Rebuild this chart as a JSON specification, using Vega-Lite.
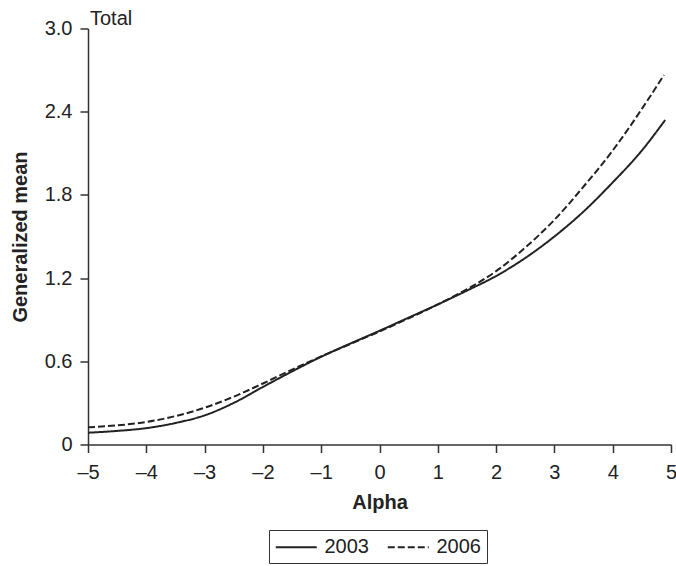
{
  "$schema": "https://vega.github.io/schema/vega-lite/v6.json",
  "width": 583,
  "height": 416,
  "autosize": {"type": "none"},
  "padding": {"left": 88, "top": 28.5, "right": 5, "bottom": 121.5},
  "background": "white",
  "config": {
    "view": {"stroke": null},
    "font": "Liberation Sans",
    "axis": {
      "domainColor": "#333",
      "domainWidth": 1.5,
      "tickColor": "#333",
      "tickWidth": 1.5,
      "tickSize": 8,
      "grid": false,
      "labelFont": "Liberation Sans",
      "labelFontSize": 20,
      "labelColor": "#222",
      "titleFont": "Liberation Sans",
      "titleFontSize": 20,
      "titleFontWeight": "bold",
      "titleColor": "#222"
    }
  },
  "title": {
    "text": "Total",
    "anchor": "start",
    "frame": "group",
    "fontSize": 20,
    "fontWeight": "normal",
    "font": "Liberation Sans",
    "color": "#222",
    "baseline": "alphabetic",
    "offset": 0,
    "dy": 26,
    "dx": 2
  },
  "data": {
    "values": [
      {"alpha": -5, "value": 0.085, "year": "2003"},
      {"alpha": -4.5, "value": 0.098, "year": "2003"},
      {"alpha": -4, "value": 0.118, "year": "2003"},
      {"alpha": -3.5, "value": 0.155, "year": "2003"},
      {"alpha": -3, "value": 0.21, "year": "2003"},
      {"alpha": -2.5, "value": 0.3, "year": "2003"},
      {"alpha": -2, "value": 0.415, "year": "2003"},
      {"alpha": -1.5, "value": 0.527, "year": "2003"},
      {"alpha": -1, "value": 0.633, "year": "2003"},
      {"alpha": -0.5, "value": 0.728, "year": "2003"},
      {"alpha": 0, "value": 0.82, "year": "2003"},
      {"alpha": 0.5, "value": 0.915, "year": "2003"},
      {"alpha": 1, "value": 1.01, "year": "2003"},
      {"alpha": 1.5, "value": 1.11, "year": "2003"},
      {"alpha": 2, "value": 1.215, "year": "2003"},
      {"alpha": 2.5, "value": 1.345, "year": "2003"},
      {"alpha": 3, "value": 1.5, "year": "2003"},
      {"alpha": 3.5, "value": 1.68, "year": "2003"},
      {"alpha": 4, "value": 1.89, "year": "2003"},
      {"alpha": 4.5, "value": 2.12, "year": "2003"},
      {"alpha": 4.9, "value": 2.34, "year": "2003"},
      {"alpha": -5, "value": 0.124, "year": "2006"},
      {"alpha": -4.5, "value": 0.138, "year": "2006"},
      {"alpha": -4, "value": 0.162, "year": "2006"},
      {"alpha": -3.5, "value": 0.205, "year": "2006"},
      {"alpha": -3, "value": 0.265, "year": "2006"},
      {"alpha": -2.5, "value": 0.345, "year": "2006"},
      {"alpha": -2, "value": 0.44, "year": "2006"},
      {"alpha": -1.5, "value": 0.54, "year": "2006"},
      {"alpha": -1, "value": 0.635, "year": "2006"},
      {"alpha": -0.5, "value": 0.725, "year": "2006"},
      {"alpha": 0, "value": 0.815, "year": "2006"},
      {"alpha": 0.5, "value": 0.91, "year": "2006"},
      {"alpha": 1, "value": 1.01, "year": "2006"},
      {"alpha": 1.5, "value": 1.12, "year": "2006"},
      {"alpha": 2, "value": 1.25, "year": "2006"},
      {"alpha": 2.5, "value": 1.42, "year": "2006"},
      {"alpha": 3, "value": 1.62, "year": "2006"},
      {"alpha": 3.5, "value": 1.86, "year": "2006"},
      {"alpha": 4, "value": 2.12, "year": "2006"},
      {"alpha": 4.5, "value": 2.42, "year": "2006"},
      {"alpha": 4.88, "value": 2.665, "year": "2006"}
    ]
  },
  "mark": {"type": "line", "interpolate": "monotone", "strokeWidth": 2, "color": "#222"},
  "encoding": {
    "x": {
      "field": "alpha",
      "type": "quantitative",
      "scale": {"domain": [-5, 5], "nice": false, "zero": false},
      "axis": {
        "title": "Alpha",
        "values": [-5, -4, -3, -2, -1, 0, 1, 2, 3, 4, 5],
        "labelExpr": "datum.value < 0 ? '–' + abs(datum.value) : '' + datum.value",
        "labelPadding": 10,
        "titlePadding": 10,
        "labelFlush": false
      }
    },
    "y": {
      "field": "value",
      "type": "quantitative",
      "scale": {"domain": [0, 3], "nice": false},
      "axis": {
        "title": "Generalized mean",
        "values": [0, 0.6, 1.2, 1.8, 2.4, 3.0],
        "labelExpr": "datum.value == 0 ? '0' : format(datum.value, '.1f')",
        "labelPadding": 8,
        "titlePadding": 14,
        "labelFlush": false
      }
    },
    "strokeDash": {
      "field": "year",
      "type": "nominal",
      "scale": {"domain": ["2003", "2006"], "range": [[1, 0], [7, 3]]},
      "legend": {
        "title": null,
        "orient": "none",
        "direction": "horizontal",
        "legendX": 181,
        "legendY": 501.5,
        "padding": 5.5,
        "strokeColor": "#333",
        "symbolType": "M-1,0H3",
        "symbolSize": 420,
        "symbolStrokeWidth": 2,
        "symbolStrokeColor": "#222",
        "labelFontSize": 20,
        "labelFont": "Liberation Sans",
        "labelColor": "#222",
        "labelOffset": 27,
        "columnPadding": 14
      }
    }
  }
}
